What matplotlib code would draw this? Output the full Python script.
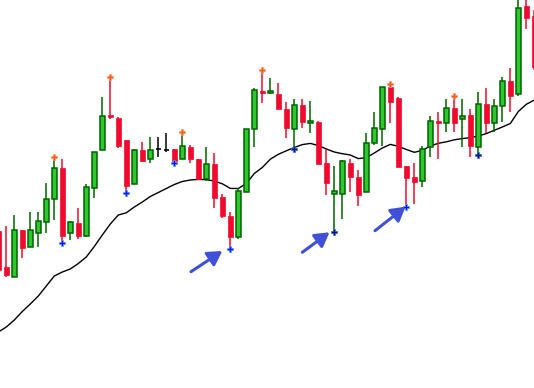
import matplotlib
matplotlib.use("Agg")
import matplotlib.pyplot as plt
from matplotlib.patches import FancyArrowPatch

# OHLC bars, one per session
opens = [157, 121.3, 111.3, 158, 141.3, 155.3, 166.3, 188.7, 219.7, 154.7,
         164.7, 152.3, 200.3, 237.7, 273, 269.7, 248, 203.7, 238, 228.7,
         238.7, 238, 238.7, 228.7, 240.7, 229, 209, 224, 191.3, 172,
         151.3, 196.3, 258.7, 297, 295.3, 293.7, 278.7, 258.7, 282.7, 264.7,
         265.7, 224.7, 193.7, 193.7, 224.7, 210.7, 195.7, 244.7, 258.7, 300.7,
         289.7, 222, 211.3, 207.3, 240.7, 267, 265.3, 279.7, 268.7, 273,
         240.7, 283.7, 264.7, 282.3, 307, 293.7, 382, 372]
highs = [159, 162.3, 173, 158, 175.7, 175.7, 204.7, 231.3, 229, 167,
         180, 203.7, 235.7, 291.3, 311.3, 271.3, 248, 239, 246.3, 250.7,
         250.7, 254.7, 238.7, 255.7, 243, 229, 240.7, 235.3, 194, 176,
         199.7, 258.7, 299.7, 318, 309.7, 304.7, 285.7, 288.7, 288.7, 286.7,
         267, 238.7, 222, 228, 229, 218, 255.3, 275.7, 300.7, 304,
         291.3, 222, 225.3, 242.3, 272, 275.7, 289, 292.3, 289, 279,
         295.7, 299.7, 289, 310.7, 319.7, 395, 395, 378]
lows = [116, 111.3, 111.3, 130.3, 141.3, 141.3, 155.3, 168, 145.3, 148,
        149.3, 151.3, 190.3, 237.7, 269.3, 240.3, 194.7, 203.7, 226.3, 224.7,
        231.3, 235.7, 224.7, 228.7, 224.7, 209, 207.3, 180.3, 169.7, 138.7,
        149, 196.3, 241.3, 285.3, 293.7, 278.7, 250.3, 238.7, 259.7, 255.3,
        223.7, 193, 155.7, 169.3, 196.3, 182.3, 195.7, 242.7, 242, 264.7,
        221.3, 181.3, 183.7, 200.7, 231.3, 228.7, 255.7, 255.7, 240.7, 231.3,
        233, 255.3, 255.7, 265.7, 276.3, 292.3, 358.7, 318]
closes = [118, 113, 158, 140.3, 157.7, 166.7, 188.7, 219.7, 152.3, 165.7,
          152.3, 200.7, 235.7, 272, 271, 242, 202, 238, 227.3, 238,
          238.7, 238, 227.3, 242, 228.7, 209, 223.7, 190.3, 172.3, 151.3,
          197, 258.7, 298, 295.3, 297, 278.7, 259.7, 282.7, 265.7, 266.7,
          223.7, 204.7, 196.7, 227, 210.7, 193.3, 244.7, 259.7, 300.7, 286.3,
          221.3, 209.7, 206.3, 238.7, 267, 265.3, 279.7, 265.3, 272, 242.3,
          283.7, 265.3, 282, 307, 292.3, 379.7, 369.7, 321.3]

# moving average under the bars
ma = [56, 61, 68, 76.5, 84, 92, 102, 112, 116, 119,
      124.5, 131, 141.5, 153, 164, 173, 175.2, 181, 186, 191.5,
      195.5, 199.5, 203.5, 206.5, 208, 208.6, 208.3, 207, 204.2, 199.6,
      199.5, 204.5, 214.5, 220.5, 228.8, 233.7, 237.2, 240.5, 243.4, 244.6,
      242.5, 239, 236, 234.3, 233, 229.4, 230.3, 235, 240, 243.6,
      241.7, 238.5, 235.7, 237.6, 242, 244.7, 246.2, 248.2, 249.4, 250.4,
      252, 254.4, 257.7, 261, 264.5, 276.5, 283.7, 288]

# fractal marks
up_marks = [7, 14, 23, 33, 49, 57]
down_marks = [8, 16, 22, 29, 51]
down_marks_dark = [37, 42, 60]

# signal arrows: (x0, y0, x1, y1)
arrows = [(24.09, 116.3, 28.0, 137.0),
          (38.0, 135.7, 41.4, 155.7),
          (47.09, 157.3, 50.9, 181.3)]

GREEN = "#2ec82e"
GREEN_EDGE = "#006400"
RED = "#f00a2d"

fig = plt.figure(figsize=(5.34, 3.88), dpi=100)
ax = fig.add_axes([0, 0, 1, 1])
ax.axis("off")

w = 0.65
for i, (o, h, l, c) in enumerate(zip(opens, highs, lows, closes)):
    if c > o:
        ax.vlines(i, l, h, color=GREEN_EDGE, lw=1.1, zorder=2)
        ax.bar(i, c - o, bottom=o, width=w, color=GREEN,
               edgecolor=GREEN_EDGE, linewidth=1.1, zorder=3)
    elif c < o:
        ax.vlines(i, l, h, color=RED, lw=1.1, zorder=2)
        ax.bar(i, o - c, bottom=c, width=w, color=RED,
               edgecolor=RED, linewidth=0.5, zorder=3)
    else:
        ax.vlines(i, l, h, color="black", lw=1.1, zorder=2)
        ax.hlines(o, i - w / 2, i + w / 2, color="black", lw=1.2, zorder=3)

ax.plot(range(len(ma)), ma, color="black", lw=1.0, zorder=1)

ax.plot(up_marks, [highs[i] for i in up_marks], ls="none", marker="P",
        ms=4.5, mfc="#ff5a00", mec="#ff9a80", mew=0.5, zorder=4)
ax.plot(down_marks, [lows[i] for i in down_marks], ls="none", marker="P",
        ms=4.5, mfc="#0010ff", mec="#60a0ff", mew=0.5, zorder=4)
ax.plot(down_marks_dark, [lows[i] for i in down_marks_dark], ls="none",
        marker="P", ms=4.5, mfc="#101070", mec="#3070d0", mew=0.5, zorder=4)

for x0, y0, x1, y1 in arrows:
    ax.add_patch(FancyArrowPatch(
        (x0, y0), (x1, y1),
        arrowstyle="-|>,head_length=0.6,head_width=0.35",
        mutation_scale=14, color="#4050d8", lw=2.2,
        shrinkA=0, shrinkB=0, zorder=5))

ax.set_xlim(0.2125, 66.96)
ax.set_ylim(0, 388)

fig.savefig("out.png", dpi=100, facecolor="white")
